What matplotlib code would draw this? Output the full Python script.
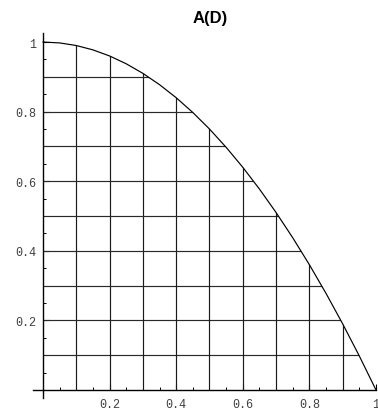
import numpy as np
import matplotlib.pyplot as plt
from matplotlib.patches import Polygon
from matplotlib.ticker import MultipleLocator, FixedLocator

# curve values read at steps of 0.05
d = [0.0, 0.05, 0.1, 0.15, 0.2, 0.25, 0.3, 0.35, 0.4, 0.45, 0.5,
     0.55, 0.6, 0.65, 0.7, 0.75, 0.8, 0.85, 0.9, 0.95, 1.0]
a = [1.0, 0.9975, 0.99, 0.9775, 0.96, 0.9375, 0.91, 0.8775, 0.84, 0.7975, 0.75,
     0.6975, 0.64, 0.5775, 0.51, 0.4375, 0.36, 0.2775, 0.19, 0.0975, 0.0]
grid_pos = [0.1, 0.2, 0.3, 0.4, 0.5, 0.6, 0.7, 0.8, 0.9]
x_labels = [0.2, 0.4, 0.6, 0.8, 1.0]
y_labels = [0.2, 0.4, 0.6, 0.8, 1.0]

fig = plt.figure(figsize=(3.78, 4.14), dpi=100)
ax = fig.add_axes([33 / 378, 15 / 414, 343 / 378, 365 / 414])
ax.set_xlim(-0.03, 1.0)
ax.set_ylim(-0.023, 1.026)

# region under the curve, used to cut the grid lines
region = Polygon(list(zip(d, a)) + [(0, 0)], closed=True, fill=False,
                 edgecolor='none', transform=ax.transData)
ax.add_patch(region)
for g in grid_pos:
    v = ax.plot([g, g], [0, 1.1], color='#1a1a1a', lw=0.85)[0]
    h = ax.plot([0, 1.1], [g, g], color='#2a2a2a', lw=0.85)[0]
    v.set_clip_path(region)
    h.set_clip_path(region)

ax.plot(d, a, color='black', lw=0.85)

for side in ['top', 'right']:
    ax.spines[side].set_visible(False)
ax.spines['left'].set_position(('data', 0))
ax.spines['bottom'].set_position(('data', 0))
for side in ['left', 'bottom']:
    ax.spines[side].set_linewidth(1.0)

ax.xaxis.set_major_locator(FixedLocator(x_labels))
ax.yaxis.set_major_locator(FixedLocator(y_labels))
ax.xaxis.set_minor_locator(MultipleLocator(0.05))
ax.yaxis.set_minor_locator(MultipleLocator(0.05))
fmt = lambda v: '1' if v == 1 else f'{v:g}'
ax.set_xticklabels([fmt(v) for v in x_labels])
ax.set_yticklabels([fmt(v) for v in y_labels])
ax.tick_params(which='major', direction='in', length=4, width=0.8, labelsize=8.5,
               labelcolor='#404040')
ax.tick_params(axis='x', which='major', pad=6)
ax.tick_params(axis='y', which='major', pad=5)
ax.tick_params(which='minor', direction='in', length=2.5, width=0.7)
for lab in ax.get_xticklabels() + ax.get_yticklabels():
    lab.set_family('Liberation Mono')

fig.text(210 / 378, 1 - 19 / 414, 'A(D)', ha='center', va='center',
         fontsize=12, fontweight='bold', family='Liberation Sans')

fig.savefig('out.png', dpi=100)
